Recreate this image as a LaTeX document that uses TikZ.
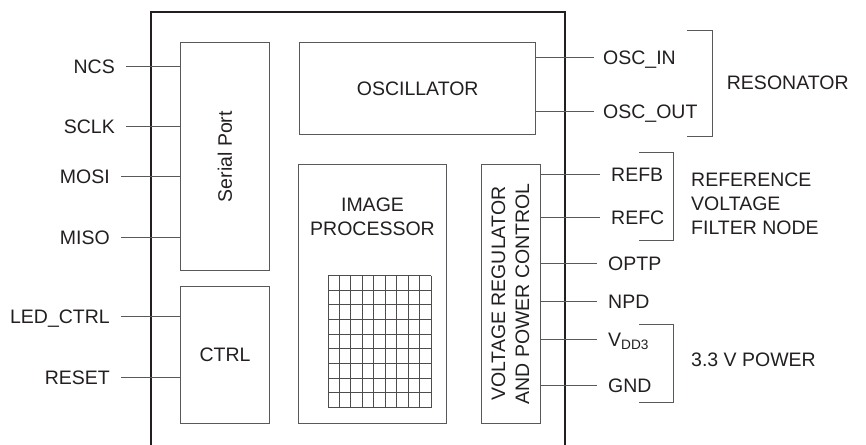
\documentclass[tikz,border=0pt]{standalone}
\usepackage{fontspec}
\setmainfont{Liberation Sans}
\definecolor{inkdark}{HTML}{231F20}
\definecolor{wiregray}{HTML}{58595B}
\tikzset{
  blk/.style={draw=wiregray, line width=0.9pt, inner sep=0pt, text=inkdark},
  wire/.style={draw=wiregray, line width=0.9pt},
  pinlbl/.style={inner ysep=0pt, inner xsep=11pt, text height=14pt, text depth=0pt, text=inkdark},
  note/.style={inner sep=0pt, align=left, text=inkdark},
  gridline/.style={draw=inkdark!80, line width=0.8pt},
}
\begin{document}
\begin{tikzpicture}[x=1pt, y=-1pt, font=\fontsize{19.5}{24}\selectfont]
    \useasboundingbox (0,0) rectangle (866,444);
    \draw[line width=1.8pt, draw=inkdark] (151,446) -- (151,12) -- (565,12) -- (565,446);

    \node[blk, rotate=90, minimum width=228pt, minimum height=89pt] (serial) at (225,156.6) {Serial Port};
    \node[blk, minimum width=89pt, minimum height=137pt] (ctrl) at (225,354.5) {CTRL};
    \node[blk, minimum width=236pt, minimum height=91.3pt] (osc) at (417.7,88.4) {OSCILLATOR};
    \node[blk, minimum width=148.4pt, minimum height=259pt] (imgproc) at (372.5,293.8) {};
    \node[note, align=center] (imgtxt) at (372.5,216.7) {IMAGE\\PROCESSOR};
    \node[blk, rotate=90, align=center, minimum width=259pt, minimum height=59pt] (vreg) at (510.5,293.8)
        {VOLTAGE REGULATOR\\AND POWER CONTROL};

    \foreach \i in {0,...,9} {
        \draw[gridline] (328+\i*11.44,275.5) -- (328+\i*11.44,407.5);
        \draw[gridline] (328,275.5+\i*14.67) -- (431,275.5+\i*14.67);
    }

    \foreach \name/\txt/\y/\x in {ncs/NCS/66/126, sclk/SCLK/126.7/126, mosi/MOSI/176.7/121, miso/MISO/237.7/121} {
        \node[pinlbl, anchor=east] (\name) at (\x,\y) {\txt};
        \draw[wire] (\name.east) -- (serial.north |- \name.east);
    }
    \foreach \name/\txt/\y in {ledctrl/LED\_CTRL/316.7, reset/RESET/377.7} {
        \node[pinlbl, anchor=east] (\name) at (121,\y) {\txt};
        \draw[wire] (\name.east) -- (ctrl.west |- \name.east);
    }
    \foreach \name/\txt/\y in {oscin/OSC\_IN/57.7, oscout/OSC\_OUT/111} {
        \node[pinlbl, anchor=west, inner xsep=9pt] (\name) at (594,\y) {\txt};
        \draw[wire] (osc.east |- \name.west) -- (\name.west);
    }
    \foreach \name/\txt/\y/\x in {refb/REFB/174/600, refc/REFC/217.3/600, optp/OPTP/263.3/597,
                                  npd/NPD/301.7/597, vdd/V\textsubscript{DD3}/339.3/597, gnd/GND/385/597} {
        \node[pinlbl, anchor=west] (\name) at (\x,\y) {\txt};
        \draw[wire] (vreg.south |- \name.west) -- (\name.west);
    }

    \draw[wire] (686.7,30.7) -- (712.3,30.7) -- (712.3,136.7) -- (686.7,136.7);
    \draw[wire] (639,152.3) -- (673.3,152.3) -- (673.3,240) -- (639,240);
    \draw[wire] (639,324) -- (673.3,324) -- (673.3,402.3) -- (639,402.3);
    \node[note, anchor=west] (reso) at (726.7,82.7) {RESONATOR};
    \node[note, anchor=west] (refv) at (691,204) {REFERENCE\\VOLTAGE\\FILTER NODE};
    \node[note, anchor=west] (pwr) at (691,360) {3.3 V POWER};
\end{tikzpicture}
\end{document}
